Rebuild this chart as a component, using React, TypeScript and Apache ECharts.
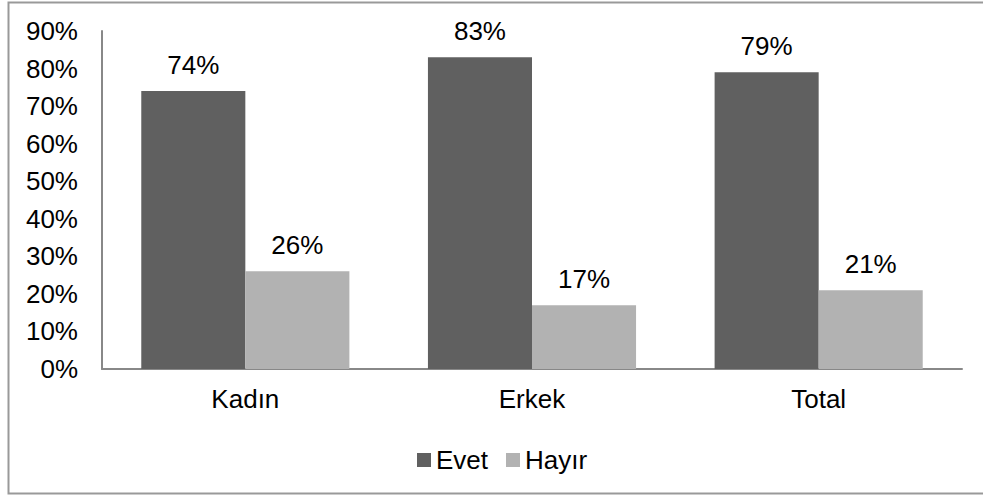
import React, { useEffect, useRef } from "react";
import * as echarts from "echarts";

const categories = ["Kadın", "Erkek", "Total"];
const evetValues = [74, 83, 79];
const hayirValues = [26, 17, 21];
const seriesNames = ["Evet", "Hayır"];
const yTicks = { min: 0, max: 90, interval: 10 };

const FONT = "'Liberation Sans', Arial, sans-serif";
const FS = 26;

export default function App() {
  const ref = useRef<HTMLDivElement>(null);

  useEffect(() => {
    if (!ref.current) return;
    const chart = echarts.init(ref.current, null, { renderer: "svg" });
    const labelStyle = {
      show: true,
      position: "top" as const,
      distance: 13,
      formatter: "{c}%",
      fontFamily: FONT,
      fontSize: FS,
      color: "#000",
    };
    chart.setOption({
      animation: false,
      backgroundColor: "#fff",
      textStyle: { fontFamily: FONT },
      graphic: [
        {
          type: "rect",
          shape: { x: 8.5, y: 2.5, width: 1000, height: 491 },
          style: { fill: "none", stroke: "#999", lineWidth: 2 },
          silent: true,
        },
      ],
      grid: { left: 102, right: 21, top: 31, bottom: 127, containLabel: false },
      legend: {
        data: seriesNames,
        left: 412,
        top: 442,
        itemWidth: 14,
        itemHeight: 14,
        itemGap: 18,
        icon: "rect",
        textStyle: { fontFamily: FONT, fontSize: FS, color: "#000" },
      },
      xAxis: {
        type: "category",
        data: categories,
        axisLine: { lineStyle: { color: "#888", width: 2 } },
        axisTick: { show: false },
        axisLabel: { fontFamily: FONT, fontSize: FS, color: "#000", margin: 17 },
      },
      yAxis: {
        type: "value",
        min: yTicks.min,
        max: yTicks.max,
        interval: yTicks.interval,
        axisLine: { show: true, lineStyle: { color: "#888", width: 2 } },
        axisTick: { show: false },
        splitLine: { show: false },
        axisLabel: { formatter: "{value}%", fontFamily: FONT, fontSize: FS, color: "#000", margin: 24 },
      },
      series: [
        {
          name: seriesNames[0],
          type: "bar",
          data: evetValues,
          barGap: "0%",
          barCategoryGap: "27.4%",
          itemStyle: { color: "#606060" },
          label: labelStyle,
        },
        {
          name: seriesNames[1],
          type: "bar",
          data: hayirValues,
          barGap: "0%",
          barCategoryGap: "27.4%",
          itemStyle: { color: "#b2b2b2" },
          label: labelStyle,
        },
      ],
    });
    return () => chart.dispose();
  }, []);

  return (
    <div
      ref={ref}
      style={{ position: "fixed", left: 0, top: 0, width: 983, height: 496 }}
    />
  );
}
